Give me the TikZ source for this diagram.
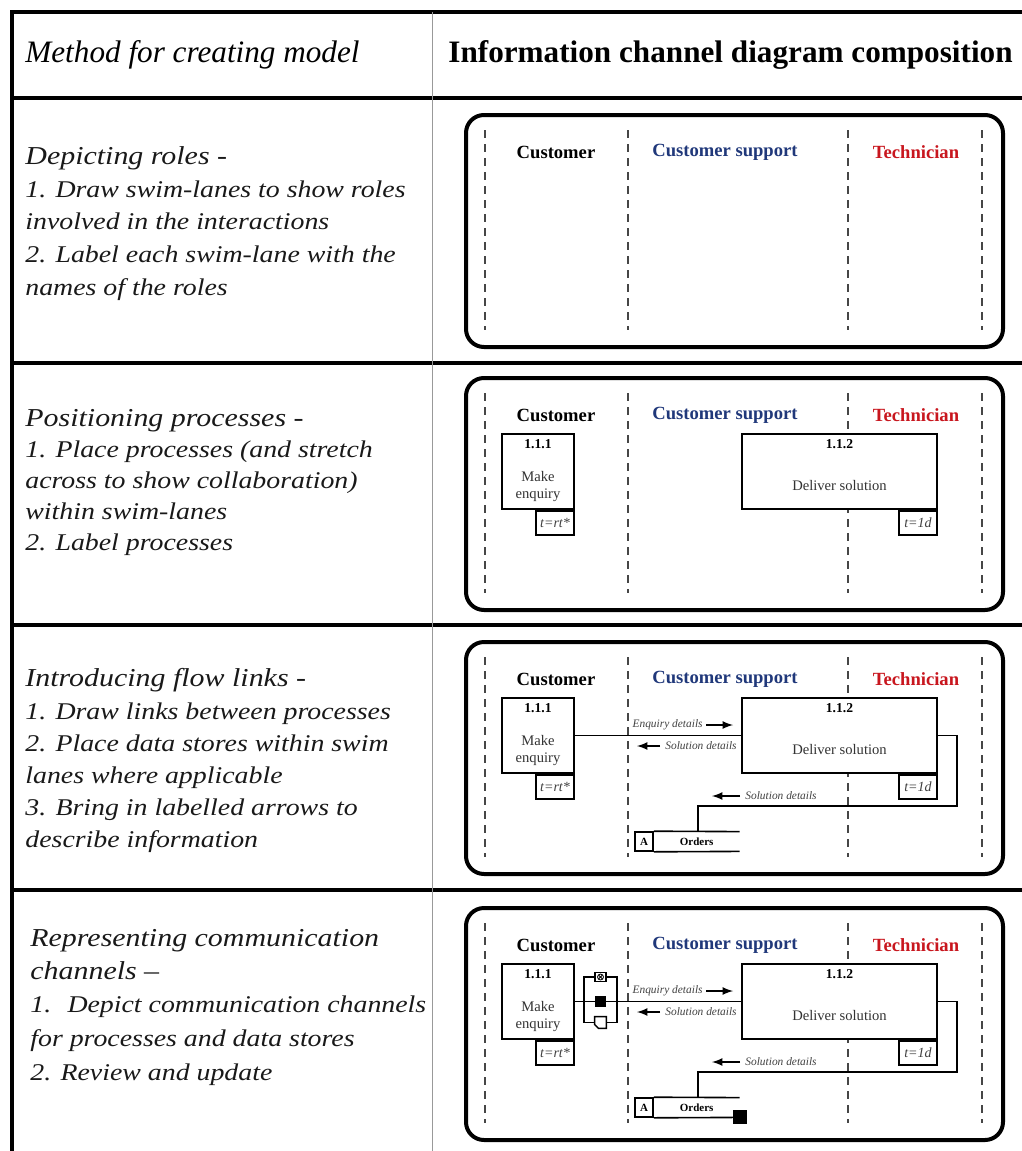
\documentclass[tikz,border=0pt]{standalone}
\usepackage{fontspec}
\setmainfont{Liberation Serif}
\newfontfamily\widefont{Liberation Serif}[FakeStretch=1.16, Ligatures=TeX]
\usepackage{tikz}
\usetikzlibrary{positioning}
\definecolor{custblue}{RGB}{32,56,122}
\definecolor{techred}{RGB}{200,22,30}
\definecolor{lanegray}{RGB}{70,70,70}

\begin{document}
\begin{tikzpicture}[x=0.5pt, y=-0.5pt,
  rule/.style={line width=2pt},
  rowtitle/.style={anchor=base west, inner sep=0pt, text=black!90, font=\widefont\itshape\fontsize{12.9}{14}\selectfont},
  rowline/.style={anchor=base west, inner sep=0pt, text=black!90, font=\widefont\itshape\fontsize{12}{14}\selectfont},
  panel/.style={draw, line width=2pt, rounded corners=9pt},
  lane/.style={draw=lanegray, line width=0.7pt, dash pattern=on 4pt off 3pt},
  lanelabel/.style={inner sep=0pt, font=\bfseries\fontsize{9.3}{10}\selectfont},
  procbox/.style={draw, fill=white, line width=1.1pt, minimum height=37.5pt, inner sep=0pt},
  timebox/.style={draw, fill=white, line width=1.1pt, minimum width=19pt, minimum height=12pt, inner sep=0pt, anchor=north east, text=black!75, font=\itshape\fontsize{7}{8}\selectfont},
  procid/.style={inner sep=0pt, font=\bfseries\fontsize{6.8}{8}\selectfont},
  proctext/.style={inner sep=0pt, align=center, text=black!80, font=\fontsize{7.3}{8.6}\selectfont},
  flow/.style={line width=0.8pt},
  flowlabel/.style={inner sep=0pt, text=black!75, font=\itshape\fontsize{5.7}{6}\selectfont},
  flowarrow/.style={-latex, line width=0.8pt},
  store/.style={inner sep=0pt, minimum height=9.5pt, font=\bfseries\fontsize{5.5}{6}\selectfont},
  chanbox/.style={draw, line width=0.7pt, fill=white, inner sep=0pt}
]
\useasboundingbox (0,0) rectangle (1022,1151);

% table frame
\draw[rule] (1040,12) -- (12,12) -- (12,1170);
\foreach \y in {98,363,625,890}
  \draw[rule] (12,\y) -- (1040,\y);
\draw[black!40, line width=0.5pt] (432,12) -- (432,1170);

% header
\node (hmethod) [anchor=west, inner sep=0pt, font=\itshape\fontsize{15.6}{18}\selectfont] at (25,55) {Method for creating model};
\node (hcompose) [anchor=west, inner sep=0pt, font=\bfseries\fontsize{15.6}{18}\selectfont] at (448,55) {Information channel diagram composition};

% left column
\node (r1t) [rowtitle] at (25,164) {Depicting roles -};
\foreach \txt [count=\i] in {{1. Draw swim-lanes to show roles}, {involved in the interactions}, {2. Label each swim-lane with the}, {names of the roles}}
  \node (r1l\i) [rowline] at (25,{197+32.7*(\i-1)}) {\txt};

\node (r2t) [rowtitle] at (25,426) {Positioning processes -};
\foreach \txt [count=\i] in {{1. Place processes (and stretch}, {across to show collaboration)}, {within swim-lanes}, {2. Label processes}}
  \node (r2l\i) [rowline] at (25,{457+31.3*(\i-1)}) {\txt};

\node (r3t) [rowtitle] at (25,686) {Introducing flow links -};
\foreach \txt [count=\i] in {{1. Draw links between processes}, {2. Place data stores within swim}, {lanes where applicable}, {3. Bring in labelled arrows to}, {describe information}}
  \node (r3l\i) [rowline] at (25,{719+32*(\i-1)}) {\txt};

\node (r4t) [rowtitle] at (30,946) {Representing communication};
\node (r4t2) [rowtitle] at (30,979) {channels –};
\foreach \txt [count=\i] in {{1.~ Depict communication channels}, {for processes and data stores}, {2. Review and update}}
  \node (r4l\i) [rowline] at (30,{1012+34*(\i-1)}) {\txt};

% swim-lane panels
\foreach \top [count=\n] in {115,378,642,908} {
  \begin{scope}[shift={(0,\top)}]
    \draw[panel] (466,0) rectangle (1003,232);
    \foreach \lx in {485,628,848,982}
      \draw[lane] (\lx,15) -- (\lx,215);
    \node (cust\n) [lanelabel] at (556,37) {Customer};
    \node (supp\n) [lanelabel, text=custblue] at (725,37) {Customer support};
    \node (tech\n) [lanelabel, text=techred] at (916,37) {Technician};
  \end{scope}
}

% processes, flows and stores
\foreach \top/\n in {378/2,642/3,908/4} {
  \begin{scope}[shift={(0,\top)}]
    \node (pa\n) [procbox, minimum width=36pt] at (538,93.5) {};
    \node (paid\n) [procid, below=3pt of pa\n.north] {1.1.1};
    \node (patx\n) [proctext] at ([yshift=-7.5pt]pa\n.center) {Make\\enquiry};
    \node (pat\n) [timebox] at (pa\n.south east) {t=rt*};
    \node (pb\n) [procbox, minimum width=97.5pt] at (839.5,93.5) {};
    \node (pbid\n) [procid, below=3pt of pb\n.north] {1.1.2};
    \node (pbtx\n) [proctext] at ([yshift=-6.75pt]pb\n.center) {Deliver solution};
    \node (pbt\n) [timebox] at (pb\n.south east) {t=1d};
    \ifnum\n>2
      \draw[flow] (pa\n.east) -- (pb\n.west);
      \node (enq\n) [flowlabel, anchor=east] at (703,83) {Enquiry details};
      \draw[flowarrow] ([xshift=1.5pt]enq\n.east) -- ++(13.5pt,0);
      \node (sol\n) [flowlabel, anchor=west] at (665,104) {Solution details};
      \draw[flowarrow] ([xshift=-2.5pt]sol\n.west) -- ++(-11.5pt,0);
      \node (ordA\n) [store, draw, line width=0.8pt, minimum width=9pt] at (644,199.5) {A};
      \node (ord\n) [store, minimum width=42.5pt, right=0pt of ordA\n] {Orders};
      \draw[flow] (ordA\n.north east) -- (ord\n.north east);
      \draw[flow] (ordA\n.south east) -- (ord\n.south east);
      \coordinate (turn\n) at (957,164);
      \draw[flow] (pb\n.east) -| (turn\n) -| ([xshift=22pt]ord\n.north west);
      \node (ret\n) [flowlabel, anchor=west] at (745,154) {Solution details};
      \draw[flowarrow] ([xshift=-2.5pt]ret\n.west) -- ++(-14pt,0);
    \fi
  \end{scope}
}

% communication channels
\begin{scope}[shift={(0,908)}]
  \coordinate (chl) at (584,93.5);
  \coordinate (chr) at (617,93.5);
  \node (mail4) [chanbox, minimum width=5.5pt, minimum height=4.5pt] at (600.5,69) {};
  \node (doc4) [minimum width=5.5pt, minimum height=5.5pt, inner sep=0pt] at (600.5,114.5) {};
  \draw[flow] (chl) |- (mail4) -| (chr);
  \draw[flow] (chl) |- (doc4) -| (chr);
  \node (mail4) [chanbox, minimum width=5.5pt, minimum height=4.5pt] at (600.5,69) {};
  \draw[line width=0.4pt] (mail4.center) circle (1.5pt);
  \draw[line width=0.4pt] ([shift={(-1pt,-1pt)}]mail4.center) -- ([shift={(1pt,1pt)}]mail4.center);
  \draw[line width=0.4pt] ([shift={(-1pt,1pt)}]mail4.center) -- ([shift={(1pt,-1pt)}]mail4.center);
  \node (phone4) [fill, minimum size=5.5pt, inner sep=0pt] at (600.5,93.5) {};
  \draw[line width=0.7pt, fill=white] (doc4.north west) -- (doc4.north east) -- (doc4.south east)
    -- ([xshift=2pt]doc4.south west) -- ([yshift=2pt]doc4.south west) -- cycle;
  \node (ordch4) [fill, minimum size=7pt, inner sep=0pt] at (ord4.south east) {};
\end{scope}
\end{tikzpicture}
\end{document}
